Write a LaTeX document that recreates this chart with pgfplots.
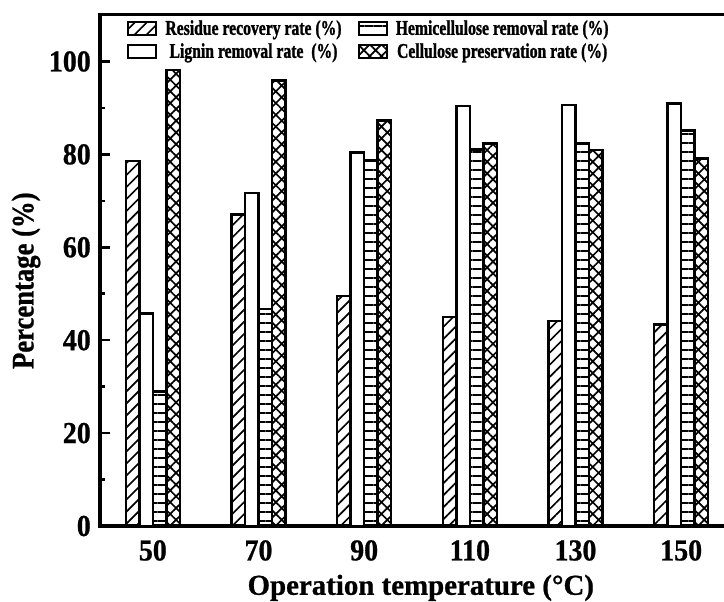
\documentclass[border=0pt]{standalone}
\usepackage{fontspec}
\setmainfont{Liberation Serif}
\newfontfamily\legfont[FakeStretch=0.75,FakeBold=1.2]{Liberation Serif}
\newfontfamily\ylabfont[FakeStretch=0.85,FakeBold=0.8]{Liberation Serif}
\newfontfamily\tickfont[FakeStretch=0.92,FakeBold=0.8]{Liberation Serif}
\newfontfamily\xlabfont[FakeBold=0.8]{Liberation Serif}
\usepackage{pgfplots}
\pgfplotsset{compat=1.18}
\usetikzlibrary{patterns.meta}
\pgfplotsset{legimg/.style={legend image code/.code={\draw[##1,line width=2.2bp] (0bp,-6.5bp) rectangle (28bp,6.5bp);}}}
\begin{document}
\begin{tikzpicture}
\useasboundingbox (0,0) rectangle (724bp,602bp);
\clip (0,0) rectangle (724bp,602bp);
\begin{axis}[
  at={(100bp,76bp)}, anchor=south west,
  scale only axis, width=634bp, height=511bp,
  xmin=40, xmax=160, ymin=0, ymax=110, enlargelimits=false,
  ybar=0pt, bar width=13.5bp,
  xtick={50,70,...,150}, ytick={0,20,...,100},
  minor y tick num=1,
  xtick style={draw=none},
  ytick style={line width=2.5bp, black},
  major tick length=10bp, minor tick length=5bp,
  axis line style={line width=3bp},
  /pgf/number format/assume math mode=true,
  tick label style={font=\tickfont\bfseries\fontsize{30.5}{30.5}\selectfont},
  xticklabel style={inner sep=0pt, yshift=-4bp},
  yticklabel style={inner sep=0pt, xshift=-9bp},
  xlabel={Operation temperature (°C)},
  ylabel={Percentage (\%)},
  xlabel style={at={(axis description cs:0.506,-0.121)}, anchor=center, font=\xlabfont\bfseries\fontsize{29}{29}\selectfont},
  ylabel style={at={(axis description cs:-0.1167,0.48)}, anchor=center, font=\ylabfont\bfseries\fontsize{31.5}{31.5}\selectfont},
  legend columns=2, transpose legend,
  legend style={draw=none, fill=none, at={(axis description cs:0.0426,0.99)}, anchor=north west,
    font=\legfont\bfseries\fontsize{21}{21}\selectfont, inner sep=0pt, row sep=7bp,
    nodes={inner sep=0pt},
    /tikz/every odd column/.append style={column sep=8bp},
    /tikz/every even column/.append style={column sep=16bp}},
]
\addplot[draw=black, line width=2.6bp, pattern={Lines[angle=45,distance=8.5bp,line width=1.7bp]}, legimg]
  coordinates {(50,78.6) (70,67.0) (90,49.5) (110,45.0) (130,44.1) (150,43.4)};
\addlegendentry{Residue recovery rate (\%)}
\addplot[draw=black, line width=2.6bp, fill=white, legimg]
  coordinates {(50,45.8) (70,71.7) (90,80.4) (110,90.4) (130,90.6) (150,91.0)};
\addlegendentry{Lignin removal rate\ \ (\%)}
\addplot[draw=black, line width=2.6bp, pattern={Lines[angle=0,distance=9bp,line width=1.7bp]}, legimg]
  coordinates {(50,29.0) (70,46.7) (90,78.7) (110,81.0) (130,82.4) (150,85.1)};
\addlegendentry{Hemicellulose removal rate (\%)}
\addplot[draw=black, line width=2.6bp, pattern={Hatch[angle=45,distance=8.3bp,line width=1.7bp]}, legimg]
  coordinates {(50,98.2) (70,95.9) (90,87.3) (110,82.4) (130,80.9) (150,79.1)};
\addlegendentry{Cellulose preservation rate (\%)}
\end{axis}
\end{tikzpicture}
\end{document}
